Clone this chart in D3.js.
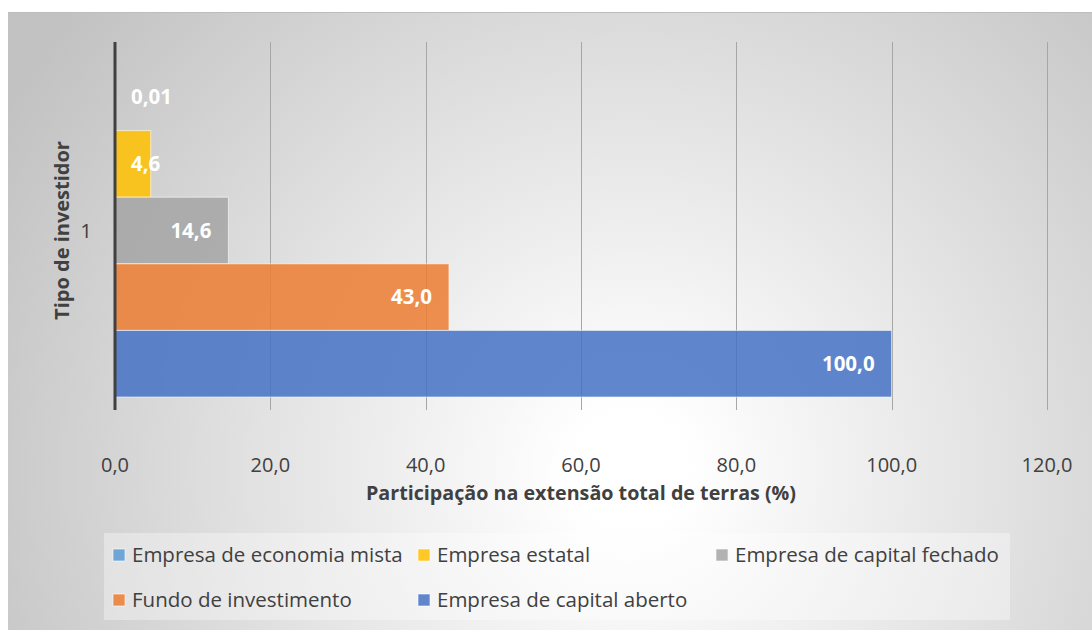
<!DOCTYPE html>
<html>
<head>
<meta charset="utf-8">
<script src="https://cdn.jsdelivr.net/npm/d3@7"></script>
<style>
  body { margin: 0; background: #fff; }
  text { font-family: "Open Sans", sans-serif; }
</style>
</head>
<body>
<script>
const width = 1092
const height = 630

// data
const series = ['Empresa de economia mista', 'Empresa estatal', 'Empresa de capital fechado', 'Fundo de investimento', 'Empresa de capital aberto']
const values = [0.01, 4.6, 14.6, 43.0, 100.0]
const labels = ['0,01', '4,6', '14,6', '43,0', '100,0']
const colors = ['#5B9BD5', '#FFC000', '#A5A5A5', '#ED7D31', '#4472C4']
const categories = ['1']
const xTicks = [0, 20, 40, 60, 80, 100, 120]

const margin = { top: 42, left: 115, right: 45, bottom: 220 }
const fmt = function (d) { return d3.format('.1f')(d).replace('.', ',') }

const svg = d3.select('body').append('svg')
  .attr('width', width)
  .attr('height', height)

const defs = svg.append('defs')
const grad = defs.append('radialGradient')
  .attr('id', 'bg')
  .attr('gradientUnits', 'userSpaceOnUse')
  .attr('cx', 630).attr('cy', 470).attr('r', 720)
grad.append('stop').attr('offset', 0.08).attr('stop-color', '#ffffff')
grad.append('stop').attr('offset', 1).attr('stop-color', '#c2c2c2')

// chart area
svg.append('rect')
  .attr('x', 8).attr('y', 12)
  .attr('width', width - 8).attr('height', height - 12)
  .attr('fill', 'url(#bg)')
svg.append('line')
  .attr('x1', 8).attr('x2', width).attr('y1', 12.5).attr('y2', 12.5)
  .attr('stroke', '#bdbdbd')

const x = d3.scaleLinear()
  .domain([0, 120])
  .range([margin.left, width - margin.right])

const y0 = d3.scaleBand()
  .domain(categories)
  .range([40, 421])
  .paddingInner(0)
  .paddingOuter(0.072)

const y1 = d3.scaleBand()
  .domain(series)
  .range([0, y0.bandwidth()])

// gridlines
svg.append('g')
  .selectAll('line')
  .data(xTicks.filter(d => d > 0))
  .enter().append('line')
  .attr('x1', d => Math.round(x(d)) + 0.5)
  .attr('x2', d => Math.round(x(d)) + 0.5)
  .attr('y1', margin.top)
  .attr('y2', height - margin.bottom)
  .attr('stroke', '#a6a6a6')
  .attr('stroke-width', 1)

// bars
const g = svg.append('g')
  .attr('transform', 'translate(0,' + y0('1') + ')')

g.selectAll('rect')
  .data(series)
  .enter().append('rect')
  .attr('x', x(0))
  .attr('y', d => y1(d))
  .attr('width', (d, i) => x(values[i]) - x(0))
  .attr('height', y1.bandwidth())
  .attr('fill', (d, i) => colors[i])
  .attr('fill-opacity', 0.85)
  .attr('stroke', 'rgba(255,255,255,0.6)')
  .attr('stroke-width', 1)

// data labels
g.selectAll('text')
  .data(series)
  .enter().append('text')
  .attr('y', d => y1(d) + y1.bandwidth() / 2)
  .attr('dy', '0.35em')
  .attr('text-anchor', 'end')
  .attr('font-size', 20.5)
  .attr('font-weight', 'bold')
  .attr('fill', '#fff')
  .text((d, i) => labels[i])
  .attr('x', function (d, i) {
    const w = this.getComputedTextLength()
    return Math.max(x(values[i]) - 17, x(0) + 16 + w)
  })

// y axis line
svg.append('line')
  .attr('x1', x(0)).attr('x2', x(0))
  .attr('y1', margin.top).attr('y2', height - margin.bottom)
  .attr('stroke', '#404040')
  .attr('stroke-width', 3)

// y tick label
svg.append('text')
  .attr('x', 92).attr('y', y0('1') + y0.bandwidth() / 2)
  .attr('dy', '0.35em')
  .attr('text-anchor', 'end')
  .attr('font-size', 20.5)
  .attr('fill', '#404040')
  .text('1')

// x tick labels
svg.append('g')
  .selectAll('text')
  .data(xTicks)
  .enter().append('text')
  .attr('x', d => x(d))
  .attr('y', 465)
  .attr('dy', '0.35em')
  .attr('text-anchor', 'middle')
  .attr('font-size', 20)
  .attr('fill', '#404040')
  .text(fmt)

// axis titles
svg.append('text')
  .attr('x', (x(0) + x(120)) / 2)
  .attr('y', 493)
  .attr('dy', '0.35em')
  .attr('text-anchor', 'middle')
  .attr('font-size', 19.7)
  .attr('font-weight', 'bold')
  .attr('fill', '#404040')
  .text('Participação na extensão total de terras (%)')

svg.append('text')
  .attr('transform', 'translate(62,' + (y0('1') + y0.bandwidth() / 2) + ') rotate(-90)')
  .attr('dy', '0.35em')
  .attr('text-anchor', 'middle')
  .attr('font-size', 20)
  .attr('font-weight', 'bold')
  .attr('fill', '#404040')
  .text('Tipo de investidor')

// legend
const legendPos = [[113, 555], [418, 555], [716, 555], [113, 600], [418, 600]]
svg.append('rect')
  .attr('x', 104).attr('y', 533)
  .attr('width', 906).attr('height', 87)
  .attr('fill', '#ffffff').attr('fill-opacity', 0.35)

const legend = svg.append('g')
  .selectAll('g')
  .data(series)
  .enter().append('g')
  .attr('transform', (d, i) => 'translate(' + legendPos[i][0] + ',' + legendPos[i][1] + ')')

legend.append('rect')
  .attr('x', 0).attr('y', -6)
  .attr('width', 12).attr('height', 12)
  .attr('fill', (d, i) => colors[i])
  .attr('fill-opacity', 0.85)
  .attr('stroke', 'rgba(255,255,255,0.6)')

legend.append('text')
  .attr('x', 19)
  .attr('dy', '0.35em')
  .attr('font-size', 20.5)
  .attr('fill', '#404040')
  .text(d => d)
</script>
</body>
</html>
